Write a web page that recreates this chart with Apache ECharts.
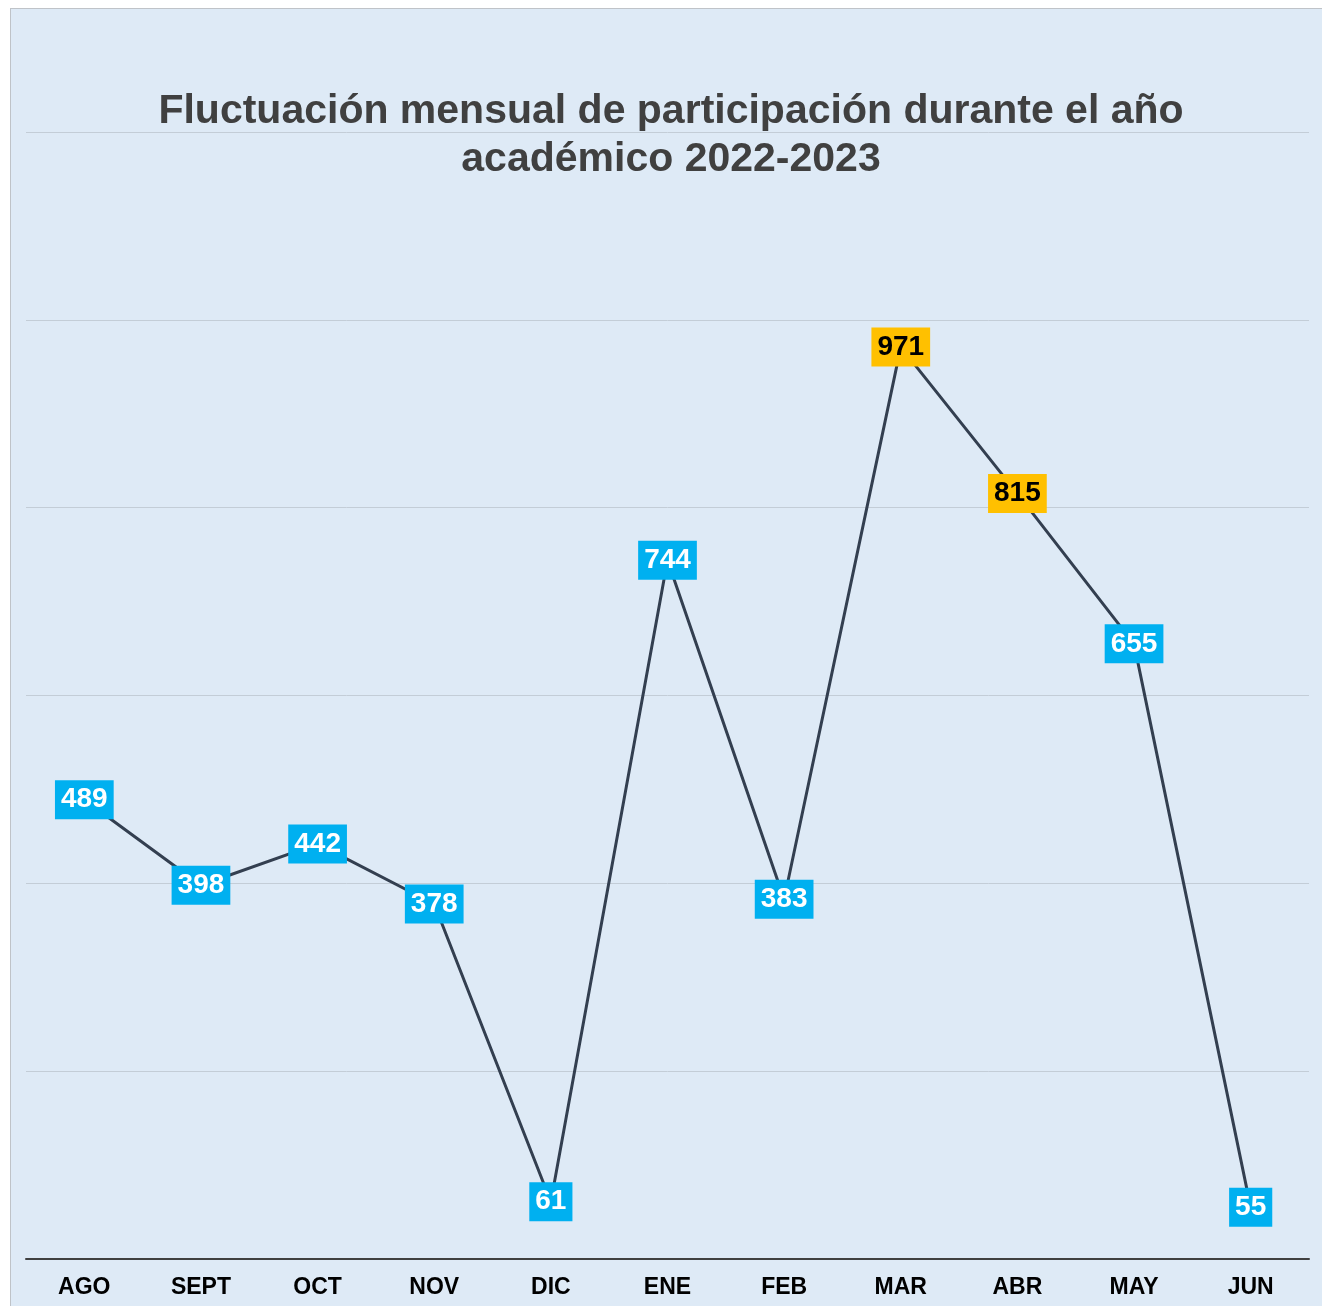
<!DOCTYPE html>
<html>
<head>
<meta charset="utf-8">
<script src="https://cdn.jsdelivr.net/npm/echarts@6/dist/echarts.min.js"></script>
<style>
html,body{margin:0;padding:0;background:#ffffff;}
#c{position:absolute;left:10px;top:8px;width:1311px;height:1297px;background:#DEEAF6;border-left:1px solid #BFC3C8;border-top:1px solid #BFC3C8;}
</style>
</head>
<body>
<div id="c"></div>
<script>
const titleText = 'Fluctuación mensual de participación durante el año\nacadémico 2022-2023';
const months = ['AGO','SEPT','OCT','NOV','DIC','ENE','FEB','MAR','ABR','MAY','JUN'];
const participation = [489, 398, 442, 378, 61, 744, 383, 971, 815, 655, 55];
const highlighted = ['MAR','ABR'];
const yMin = 0, yMax = 1200, yStep = 200;

const chart = echarts.init(document.getElementById('c'), null, {renderer:'canvas'});
const seriesData = participation.map((v, i) => {
  if (highlighted.includes(months[i])) {
    return {value: v, label: {backgroundColor: '#FFC000', color: '#000000'}};
  }
  return v;
});
chart.setOption({
  animation: false,
  backgroundColor: 'transparent',
  title: {
    text: titleText,
    left: 655,
    textAlign: 'center',
    top: 74,
    textStyle: {fontFamily: 'Liberation Sans, Arial, sans-serif', fontSize: 41, fontWeight: 'bold', color: '#404040', lineHeight: 48}
  },
  grid: {left: 15, right: 13, top: 123, bottom: 47},
  xAxis: {
    type: 'category',
    data: months,
    boundaryGap: true,
    axisLine: {lineStyle: {color: '#404040', width: 2}},
    axisTick: {show: false},
    axisLabel: {fontFamily: 'Liberation Sans, Arial, sans-serif', fontSize: 23, fontWeight: 'bold', color: '#000000', margin: 17}
  },
  yAxis: {
    type: 'value',
    min: yMin, max: yMax, interval: yStep,
    axisLine: {show: false},
    axisTick: {show: false},
    axisLabel: {show: false},
    splitLine: {lineStyle: {color: '#C3CDD7', width: 1}}
  },
  series: [{
    type: 'line',
    data: seriesData,
    symbol: 'circle',
    symbolSize: 1,
    lineStyle: {color: '#333F50', width: 3},
    itemStyle: {color: '#333F50'},
    label: {
      show: true,
      position: 'inside',
      fontFamily: 'Liberation Sans, Arial, sans-serif',
      fontSize: 28,
      fontWeight: 'bold',
      color: '#ffffff',
      backgroundColor: '#00B0F0',
      padding: [7, 6, 4, 6]
    }
  }]
});
</script>
</body>
</html>
